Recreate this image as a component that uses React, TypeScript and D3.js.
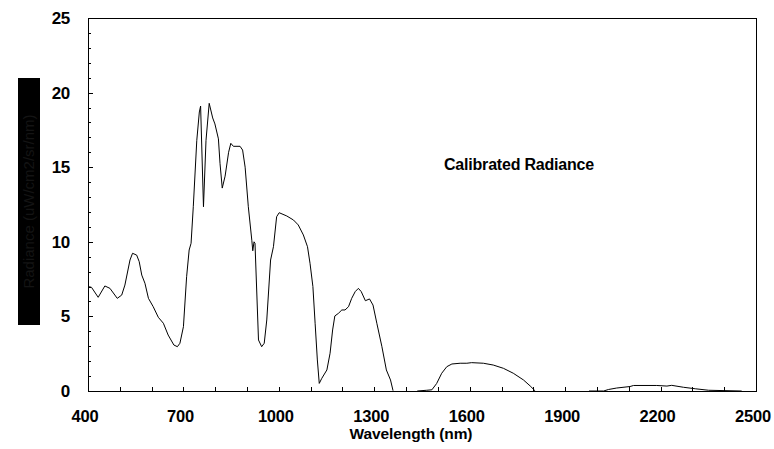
import React from "react";
import * as d3 from "d3";

const wavelengths: (number)[] = [
  400, 411, 432, 453, 469, 492, 506, 516, 532, 540, 553, 561, 569, 579, 590, 605, 621, 637, 652, 670, 681, 689, 700, 710, 718, 724, 731, 742, 750, 754, 763, 771, 781, 792, 799, 810, 815, 822, 831, 842, 849, 857, 878, 886, 894, 904, 915, 918, 922, 925, 936, 946, 954, 962, 974, 983, 993, 1001,
  1025, 1046, 1061, 1077, 1090, 1098, 1107, 1114, 1121, 1127, 1135, 1151, 1161, 1169, 1176, 1187, 1198, 1208, 1219, 1229, 1240, 1250, 1259, 1272, 1285, 1296, 1308, 1324, 1338, 1351, 1359,
  1395,
  1435, 1465, 1481, 1496, 1512, 1528, 1544, 1570, 1591, 1606, 1643, 1674, 1706, 1737, 1769, 1790, 1806,
  1890,
  1975, 2021, 2036, 2062, 2104, 2115, 2188, 2220, 2235, 2272, 2309, 2351, 2455,
];
const radiance: (number | null)[] = [
  7.0, 6.95, 6.28, 7.04, 6.88, 6.21, 6.43, 7.1, 8.78, 9.23, 9.11, 8.67, 7.77, 7.22, 6.21, 5.65, 4.94, 4.54, 3.75, 3.08, 2.97, 3.2, 4.31, 7.66, 9.45, 9.9, 12.35, 16.8, 18.7, 19.1, 12.35, 16.8, 19.28, 18.3, 17.9, 16.9, 15.26, 13.6, 14.4, 16.0, 16.6, 16.4, 16.4, 16.15, 15.0, 12.35, 10.1, 9.4, 10.0, 9.9, 3.42, 2.97, 3.2, 4.76, 8.78, 9.67, 11.68, 11.95,
  11.73, 11.46, 11.13, 10.46, 9.67, 8.56, 7.0, 4.54, 2.08, 0.51, 0.85, 1.41, 2.53, 4.09, 5.03, 5.2, 5.43, 5.43, 5.65, 6.21, 6.66, 6.88, 6.66, 6.05, 6.17, 5.76, 4.54, 2.97, 1.41, 0.74, 0.02,
  null,
  0.0, 0.05, 0.08, 0.5, 1.19, 1.63, 1.81, 1.86, 1.86, 1.9, 1.86, 1.74, 1.52, 1.19, 0.74, 0.34, 0.0,
  null,
  0.0, 0.0, 0.1, 0.2, 0.3, 0.37, 0.37, 0.33, 0.38, 0.25, 0.15, 0.05, 0.0,
];
const xTicks = [400, 700, 1000, 1300, 1600, 1900, 2200, 2500];
const yTicks = [0, 5, 10, 15, 20, 25];
const title = "Calibrated Radiance";
const xLabel = "Wavelength (nm)";
const yLabel = "Radiance (uW/cm2/sr/nm)";

export default function App() {
  const left = 88, right = 756, top = 18, bottom = 391;
  const x = d3.scaleLinear().domain([400, 2500]).range([left, right]);
  const y = d3.scaleLinear().domain([0, 25]).range([bottom, top]);
  const pts = wavelengths.map((w, i) => [w, radiance[i]] as [number, number | null]);
  const line = d3
    .line<[number, number | null]>()
    .defined((d) => d[1] !== null)
    .x((d) => x(d[0]))
    .y((d) => y(d[1] as number));
  const font = "'Liberation Sans', Arial, sans-serif";
  const minorX = d3.range(400, 2501, 100);
  const minorY = d3.range(0, 26, 1);
  return (
    <svg width={774} height={449} style={{ position: "absolute", left: 0, top: 0, background: "#fff" }}>
      <rect x={0} y={0} width={774} height={449} fill="#fff" />
      <rect x={left} y={top} width={right - left} height={bottom - top} fill="none" stroke="#000" strokeWidth={1} shapeRendering="crispEdges" />
      {minorY.map((v) => (
        <line key={"yt" + v} x1={left} x2={left + (v % 5 === 0 ? 5 : 3)} y1={Math.round(y(v)) + 0.5} y2={Math.round(y(v)) + 0.5} stroke="#000" strokeWidth={1} />
      ))}
      {minorX.map((v) => (
        <line key={"xt" + v} x1={Math.round(x(v)) + 0.5} x2={Math.round(x(v)) + 0.5} y1={bottom} y2={bottom - 4} stroke="#000" strokeWidth={1} />
      ))}
      {yTicks.map((v) => (
        <text key={"yl" + v} x={70} y={y(v) + 6} textAnchor="end" fontFamily={font} fontWeight="bold" fontSize={17} letterSpacing={-0.3} fill="#000">
          {v}
        </text>
      ))}
      {xTicks.map((v) => (
        <text key={"xl" + v} x={x(v) - 3} y={422} textAnchor="middle" fontFamily={font} fontWeight="bold" fontSize={16.5} letterSpacing={-0.2} fill="#000">
          {v}
        </text>
      ))}
      <text x={411} y={439} textAnchor="middle" fontFamily={font} fontWeight="bold" fontSize={15.5} letterSpacing={-0.1} fill="#000">
        {xLabel}
      </text>
      <rect x={18} y={78} width={22} height={247} fill="#000" />
      <text transform="translate(34,201.5) rotate(-90)" textAnchor="middle" fontFamily={font} fontSize={15} fill="#141414">
        {yLabel}
      </text>
      <text x={519} y={170} textAnchor="middle" fontFamily={font} fontWeight="bold" fontSize={16} letterSpacing={-0.2} fill="#000">
        {title}
      </text>
      <path d={line(pts) ?? ""} fill="none" stroke="#000" strokeWidth={1} />
    </svg>
  );
}
